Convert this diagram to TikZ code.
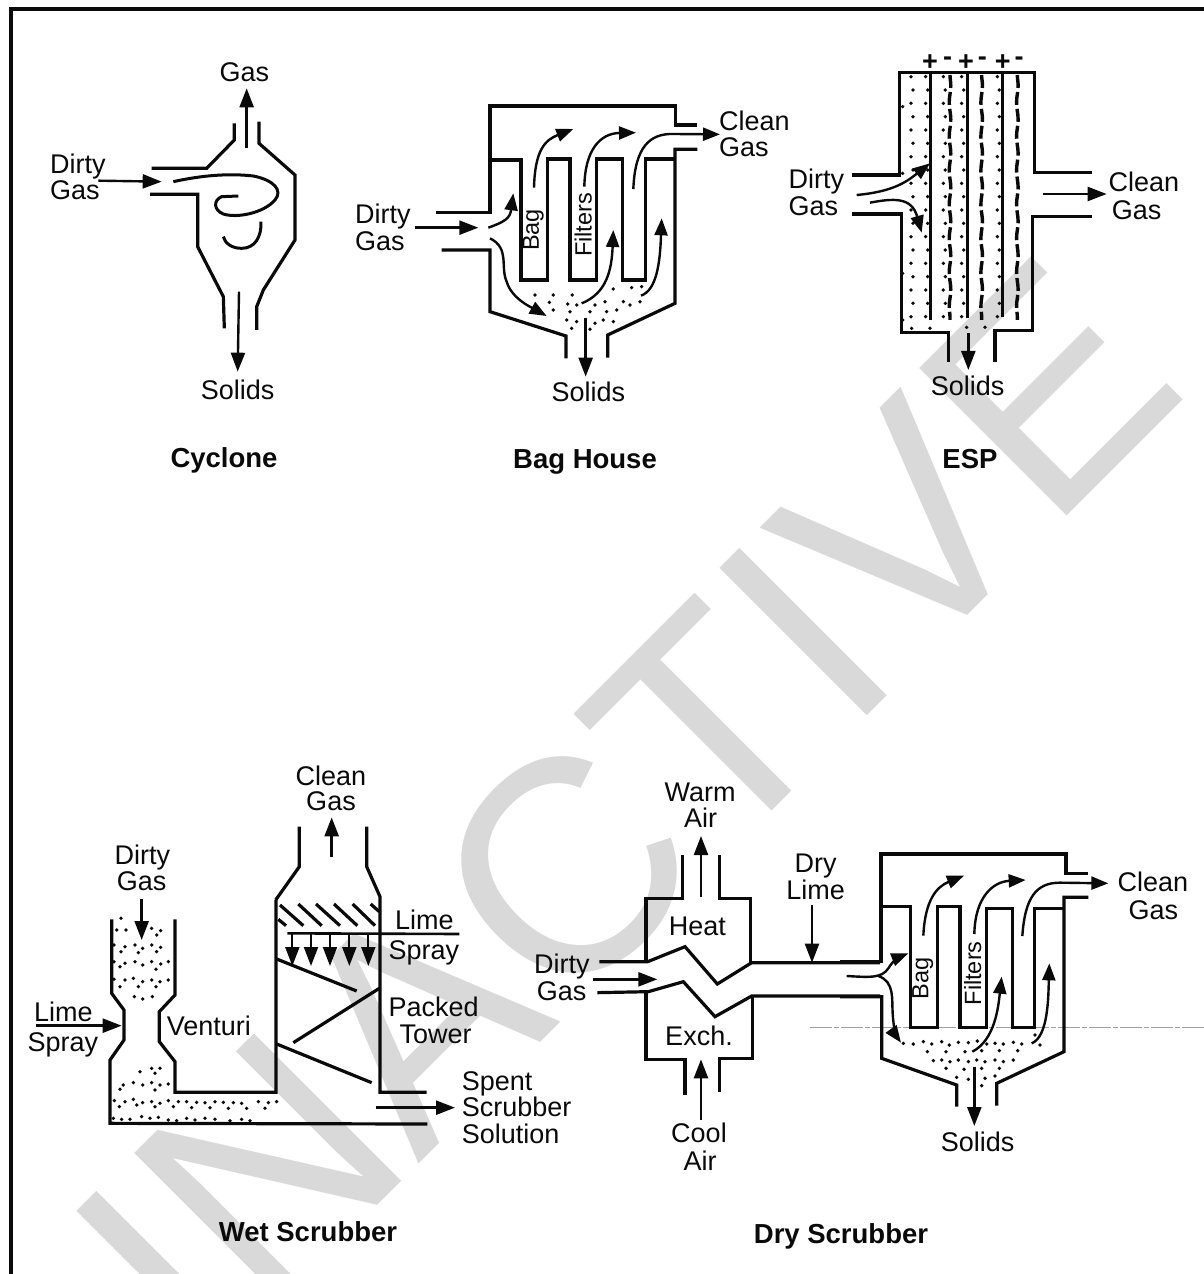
\documentclass[tikz,border=0pt]{standalone}
\usepackage{fontspec}
\setmainfont{Liberation Sans}
\usetikzlibrary{arrows.meta,decorations.pathmorphing}
\definecolor{wmgray}{HTML}{D9D9D9}
\definecolor{ink}{HTML}{0A0A0A}
\tikzset{
  wall/.style={line width=3.2pt,draw=ink,line join=miter},
  thinwall/.style={line width=2.4pt,draw=ink},
  flow/.style={line width=2.4pt,draw=ink,-{Triangle[length=19pt,width=14pt]}},
  smallflow/.style={line width=2.4pt,draw=ink,-{Triangle[length=17pt,width=13pt]}},
  wire/.style={line width=3.4pt,draw=ink,dash pattern=on 13pt off 4pt,decorate,decoration={snake,amplitude=0.8pt,segment length=34pt}},
  lab/.style={inner sep=0pt,text=ink,font=\fontsize{27}{27}\selectfont,anchor=base},
  labw/.style={lab,anchor=base west},
  ttl/.style={inner sep=0pt,text=ink,font=\bfseries\fontsize{27.5}{27.5}\selectfont,anchor=base},
  baglab/.style={inner sep=0pt,text=ink,font=\fontsize{23.5}{23.5}\selectfont,rotate=90,anchor=center},
  signlab/.style={lab,anchor=center,font=\bfseries\fontsize{27}{27}\selectfont},
  watermark/.style={inner sep=0pt,text=wmgray,font=\fontsize{303}{303}\selectfont,rotate=45,anchor=base west},
  cycscope/.style={shift={(30,40)},x=0.33333pt,y=-0.33333pt},
  bagscope/.style={shift={(340,90)},x=0.33333pt,y=-0.33333pt},
  espscope/.style={shift={(780,40)},x=0.33333pt,y=-0.33333pt},
  venscope/.style={shift={(20,760)},x=0.33333pt,y=-0.33333pt},
  towscope/.style={shift={(260,760)},x=0.33333pt,y=-0.33333pt},
  hexscope/.style={shift={(520,770)},x=0.33333pt,y=-0.33333pt},
  drybagscope/.style={shift={(840,840)},x=0.33333pt,y=-0.33333pt},
}
\newcommand{\stipple}[1]{\foreach \px/\py in {#1} {\fill[ink] (\px,\py) circle[radius=1.9pt];}}
\begin{document}
\begin{tikzpicture}[x=1pt,y=-1pt]
\useasboundingbox (0,0) rectangle (1204,1274);
\fill[white] (0,0) rectangle (1204,1274);
% watermark
\begin{scope}
  \clip (0,0) rectangle (1204,1274);
  \node[watermark] (wm) at (204.4,1378.5) {INACTIVE};
\end{scope}
% frame
\draw[line width=3.4pt,draw=ink] (11,1274) -- (11,9) -- (1204,9);
\draw[line width=1pt,draw=gray!75,dash pattern=on 22pt off 2pt on 5pt off 2pt] (810,1027) -- (1204,1027);

% ---- Cyclone
\begin{scope}[cycscope]
  \draw[wall] (613,250) -- (613,300) -- (530,385) -- (365,385);
  \draw[wall] (687,245) -- (687,310) -- (795,405) -- (795,600) -- (700,750) -- (680,800) -- (680,870);
  \draw[wall] (360,463) -- (503,463) -- (503,620) -- (580,770) -- (583,865);
  \draw[thinwall,line width=3pt] (430,425) .. controls (520,405) and (600,400) .. (670,408) .. controls (730,420) and (760,450) .. (735,480) .. controls (700,520) and (620,535) .. (580,522) .. controls (550,510) and (550,480) .. (575,470) -- (625,468);
  \draw[thinwall,line width=3pt] (693,545) .. controls (695,590) and (675,625) .. (635,625) .. controls (605,625) and (585,610) .. (580,590);
  \coordinate (cycoutA) at (650,325); \coordinate (cycoutB) at (650,145);
  \coordinate (cycinA) at (205,422); \coordinate (cycinB) at (395,425);
  \coordinate (cycsolA) at (627,755); \coordinate (cycsolB) at (623,995);
  \draw[flow] (cycoutA) -- (cycoutB);
  \draw[flow] (cycinA) -- (cycinB);
  \draw[flow] (cycsolA) -- (cycsolB);
  \node[lab] (cycgas) at (643,125) {Gas};
  \node[labw] (cycdirty) at (60,400) {Dirty};
  \node[labw] (cycdgas) at (60,478) {Gas};
  \node[lab] (cycsolids) at (623,1080) {Solids};
\end{scope}
\node[ttl] (tcyc) at (224,467) {Cyclone};

% ---- Bag House
\begin{scope}[bagscope]
  \draw[wall] (288,367) -- (450,367) -- (450,48) -- (1007,48) -- (1007,105) -- (1072,105);
  \draw[wall] (305,480) -- (450,480) -- (450,665) -- (678,738) -- (678,805);
  \draw[wall] (1072,178) -- (1005,178) -- (1005,640) -- (803,735) -- (803,803);
  \draw[wall] (450,210) -- (543,210) -- (543,570) -- (622,570) -- (622,207) -- (690,207) -- (690,570) -- (770,570) -- (770,207) -- (848,207) -- (848,570) -- (917,570) -- (917,207) -- (1005,207);
  \stipple{585/615,640/615,697/615,820/597,875/593,905/590,628/637,683/642,710/645,765/645,795/635,850/635,640/660,690/665,750/665,800/665,830/660,870/645,900/635,680/690,710/695,765/700,790/690,820/695,695/715,750/718}
  \draw[smallflow] (582,293) .. controls (585,180) and (615,150) .. (700,117);
  \draw[smallflow] (733,290) .. controls (735,180) and (780,130) .. (888,128);
  \draw[smallflow] (880,297) .. controls (885,170) and (930,130) .. (1000,132) -- (1140,133);
  \draw[smallflow] (445,413) .. controls (495,395) and (510,385) .. (520,310);
  \draw[smallflow] (450,445) .. controls (510,475) and (480,530) .. (500,575) .. controls (515,625) and (570,650) .. (620,678);
  \draw[smallflow] (725,640) .. controls (800,610) and (815,540) .. (820,420);
  \draw[smallflow] (903,617) .. controls (950,600) and (960,520) .. (965,385);
  \coordinate (baginA) at (225,413); \coordinate (baginB) at (415,413);
  \coordinate (bagsolA) at (737,683); \coordinate (bagsolB) at (737,860);
  \draw[flow] (baginA) -- (baginB);
  \draw[flow] (bagsolA) -- (bagsolB);
  \node[labw] (bagdirty) at (45,400) {Dirty};
  \node[labw] (bagdgas) at (45,480) {Gas};
  \node[labw] (bagclean) at (1137,122) {Clean};
  \node[labw] (bagcgas) at (1137,200) {Gas};
  \node[lab] (bagsolids) at (745,935) {Solids};
  \node[baglab] (bagbag) at (580,420) {Bag};
  \node[baglab] (bagfil) at (730,405) {Filters};
\end{scope}
\node[ttl] (tbag) at (585,468) {Bag House};

% ---- ESP
\begin{scope}[espscope]
  \foreach \cx in {393,437,490,545,652} {
    \foreach \cy in {110,190,...,830} {\fill[ink] (\cx,\cy) circle[radius=1.9pt];}
  }
  \foreach \cx in {393,437,490,545,652} {
    \foreach \cy in {150,230,...,830} {\fill[ink] (\cx+6,\cy) circle[radius=1.9pt];}
  }
  \stipple{395/865,450/865,560/862,615/862,368/200,368/400,368/700,368/840}
  \draw[wall] (215,405) -- (358,405) -- (358,97) -- (763,97) -- (763,397) -- (935,397);
  \draw[wall] (215,522) -- (365,522) -- (365,877) -- (505,877) -- (505,965);
  \draw[wall] (935,530) -- (758,530) -- (758,872) -- (645,872) -- (645,967);
  \draw[wall] (452,97) -- (452,840);
  \draw[wall] (562,97) -- (562,835);
  \draw[wall] (668,97) -- (668,830);
  \draw[wire] (510,105) -- (510,840);
  \draw[wire] (605,105) -- (605,840);
  \draw[wire] (712,105) -- (712,840);
  \draw[smallflow] (230,465) .. controls (340,455) and (380,425) .. (450,370);
  \draw[smallflow] (270,488) .. controls (340,475) and (395,470) .. (425,578);
  \coordinate (espoutA) at (790,462); \coordinate (espoutB) at (980,462);
  \coordinate (espsolA) at (565,880); \coordinate (espsolB) at (565,990);
  \draw[flow] (espoutA) -- (espoutB);
  \draw[flow] (espsolA) -- (espsolB);
  \node[signlab] (pa) at (450,68) {+};
  \node[signlab] (pb) at (558,68) {+};
  \node[signlab] (pc) at (668,68) {+};
  \node[signlab] (ma) at (503,65) {-};
  \node[signlab] (mb) at (607,65) {-};
  \node[signlab] (mc) at (717,65) {-};
  \node[labw] (espdirty) at (25,445) {Dirty};
  \node[labw] (espdgas) at (25,525) {Gas};
  \node[labw] (espclean) at (985,455) {Clean};
  \node[labw] (espcgas) at (995,540) {Gas};
  \node[lab] (espsolids) at (563,1068) {Solids};
\end{scope}
\node[ttl] (tesp) at (970,468) {ESP};

% ---- Wet scrubber: venturi
\begin{scope}[venscope]
  \stipple{303/475,290/510,318/510,395/505,422/512,410/525,345/555,368/565,395/555,422/562,410/575,282/555,315/560,303/575,355/578,315/610,345/605,368/615,395/605,422/612,408/628,445/605,282/605,300/620,340/655,368/665,395/660,420/665,408/680,282/658,315/660,300/680,355/680,445/660,343/710,368/717,397/710,360/935,395/925,420/925,405/940,310/975,340/968,368/975,395/968,420/975,405/990,300/988,445/972,283/1022,298/1040,315/1025,340/1018,350/1035,368/1028,395/1025,420/1030,405/1040,445/1022,460/1040,475/1025,500/1025,515/1043,530/1027,555/1028,570/1043,585/1025,610/1027,625/1045,640/1028,665/1030,680/1045,715/1025,735/1045,745/1028,770/1025,280/1075,305/1078,330/1078,365/1070,390/1075,415/1072,445/1080,470/1082,500/1075,525/1080,555/1075,585/1078,630/1082,665/1078,690/1082}
  \draw[wall] (275,478) -- (275,700) -- (312,750) -- (312,840) -- (270,900) -- (270,1090) -- (1222,1092);
  \draw[wall] (465,478) -- (465,705) -- (418,755) -- (418,845) -- (465,905) -- (465,997) -- (768,997) -- (768,420);
  \coordinate (veninA) at (365,418); \coordinate (veninB) at (365,540);
  \coordinate (venlimeA) at (48,797); \coordinate (venlimeB) at (305,797);
  \draw[flow] (veninA) -- (veninB);
  \draw[flow] (venlimeA) -- (venlimeB);
  \node[lab] (vendirty) at (367,312) {Dirty};
  \node[lab] (vendgas) at (365,390) {Gas};
  \node[labw] (venlime) at (42,785) {Lime};
  \node[labw] (venspray) at (22,875) {Spray};
  \node[labw] (venventuri) at (440,825) {Venturi};
\end{scope}

% ---- Wet scrubber: packed tower
\begin{scope}[towscope]
  \draw[wall] (47,420) -- (118,320) -- (118,200);
  \draw[wall] (320,200) -- (320,320) -- (360,410) -- (360,997) -- (500,997);
  \draw[wall] (115,432) -- (185,497);
  \draw[wall] (60,435) -- (130,497);
  \draw[wall] (168,432) -- (240,497);
  \draw[wall] (222,432) -- (292,497);
  \draw[wall] (278,432) -- (345,497);
  \draw[wall] (332,432) -- (358,455);
  \draw[wall] (55,478) -- (78,497);
  \draw[wall,line width=2.6pt] (82,520) -- (598,522);
  \foreach \ax in {97,153,210,268,325} {\draw[flow,line width=2pt] (\ax,522) -- (\ax,618);}
  \draw[wall] (50,597) -- (290,693);
  \draw[wall] (358,685) -- (100,848);
  \draw[wall] (50,852) -- (335,968);
  \coordinate (towoutA) at (215,290); \coordinate (towoutB) at (215,172);
  \coordinate (towspentA) at (347,1043); \coordinate (towspentB) at (585,1043);
  \draw[flow] (towoutA) -- (towoutB);
  \draw[flow] (towspentA) -- (towspentB);
  \node[lab] (towclean) at (213,75) {Clean};
  \node[lab] (towgas) at (213,152) {Gas};
  \node[labw] (towlime) at (405,508) {Lime};
  \node[labw] (towspray) at (385,598) {Spray};
  \node[labw] (towpacked) at (385,768) {Packed};
  \node[labw] (towtower) at (418,850) {Tower};
  \node[labw] (towspent) at (605,990) {Spent};
  \node[labw] (towscrub) at (605,1070) {Scrubber};
  \node[labw] (towsol) at (605,1150) {Solution};
\end{scope}
\node[ttl] (twet) at (308,1241) {Wet Scrubber};

% ---- Dry scrubber: heat exchanger
\begin{scope}[hexscope]
  \draw[wall] (378,570) -- (378,385) -- (487,385) -- (487,255);
  \draw[wall] (598,255) -- (598,385) -- (692,385) -- (692,578);
  \draw[wall] (238,575) -- (383,575) -- (495,530) -- (592,642) -- (695,578) -- (1080,578);
  \draw[wall] (232,668) -- (385,665) -- (490,635) -- (585,740) -- (695,678) -- (1080,678);
  \draw[wall] (378,668) -- (378,868) -- (495,868) -- (495,975);
  \draw[wall] (697,678) -- (697,865) -- (598,865) -- (598,965);
  \coordinate (hexwarmA) at (543,380); \coordinate (hexwarmB) at (543,198);
  \coordinate (hexcoolA) at (543,1050); \coordinate (hexcoolB) at (543,868);
  \coordinate (hexinA) at (218,628); \coordinate (hexinB) at (412,628);
  \coordinate (hexlimeA) at (876,405); \coordinate (hexlimeB) at (876,578);
  \draw[flow] (hexwarmA) -- (hexwarmB);
  \draw[flow] (hexcoolA) -- (hexcoolB);
  \draw[flow] (hexinA) -- (hexinB);
  \draw[flow] (hexlimeA) -- (hexlimeB);
  \node[lab] (hexwarm) at (540,95) {Warm};
  \node[lab] (hexair) at (542,172) {Air};
  \node[lab] (hexheat) at (532,495) {Heat};
  \node[lab] (hexexch) at (537,825) {Exch.};
  \node[lab] (hexcool) at (537,1118) {Cool};
  \node[lab] (hexcair) at (540,1200) {Air};
  \node[labw] (hexdirty) at (42,610) {Dirty};
  \node[labw] (hexdgas) at (50,692) {Gas};
  \node[lab] (hexdry) at (887,308) {Dry};
  \node[lab] (hexlime) at (887,388) {Lime};
\end{scope}

% ---- Dry scrubber: bag house
\begin{scope}[drybagscope]
  \draw[wall] (0,365) -- (123,365) -- (123,42) -- (678,42) -- (678,100) -- (745,100);
  \draw[wall] (0,470) -- (125,470) -- (125,655) -- (350,735) -- (350,800);
  \draw[wall] (745,172) -- (672,172) -- (672,635) -- (470,730) -- (470,797);
  \draw[wall] (125,200) -- (212,200) -- (212,563) -- (292,563) -- (292,200) -- (360,200) -- (360,563) -- (440,563) -- (440,205) -- (517,205) -- (517,563) -- (583,563) -- (583,205) -- (672,205);
  \stipple{190/610,220/612,250/605,275/612,305/605,328/615,355/607,385/608,412/603,440/612,465/610,490/612,520/607,545/612,585/585,600/615,262/635,318/635,375/635,425/632,478/632,533/632,280/662,305/660,330/665,355/660,385/665,410/660,435/665,465/660,490/665,520/660,318/685,372/688,425/685,478/685,350/712,385/718,435/715,465/708,425/737}
  \draw[smallflow] (250,287) .. controls (255,180) and (290,140) .. (372,107);
  \draw[smallflow] (403,282) .. controls (405,170) and (460,125) .. (557,120);
  \draw[smallflow] (547,288) .. controls (555,170) and (590,128) .. (660,128) -- (805,130);
  \draw[smallflow] (20,408) .. controls (90,412) and (125,415) .. (145,385) .. controls (160,360) and (180,350) .. (205,340);
  \draw[smallflow] (115,408) .. controls (165,425) and (155,480) .. (158,520) .. controls (160,560) and (170,590) .. (183,608);
  \draw[smallflow] (397,635) .. controls (465,600) and (475,500) .. (485,410);
  \draw[smallflow] (575,610) .. controls (625,590) and (625,470) .. (628,370);
  \coordinate (drysolA) at (403,680); \coordinate (drysolB) at (403,858);
  \draw[flow] (drysolA) -- (drysolB);
  \node[labw] (dryclean) at (832,155) {Clean};
  \node[labw] (drygas) at (865,238) {Gas};
  \node[lab] (drysolids) at (413,935) {Solids};
  \node[baglab] (drybag) at (248,415) {Bag};
  \node[baglab] (dryfil) at (398,400) {Filters};
\end{scope}
\node[ttl] (tdry) at (841,1243) {Dry Scrubber};
\end{tikzpicture}
\end{document}
